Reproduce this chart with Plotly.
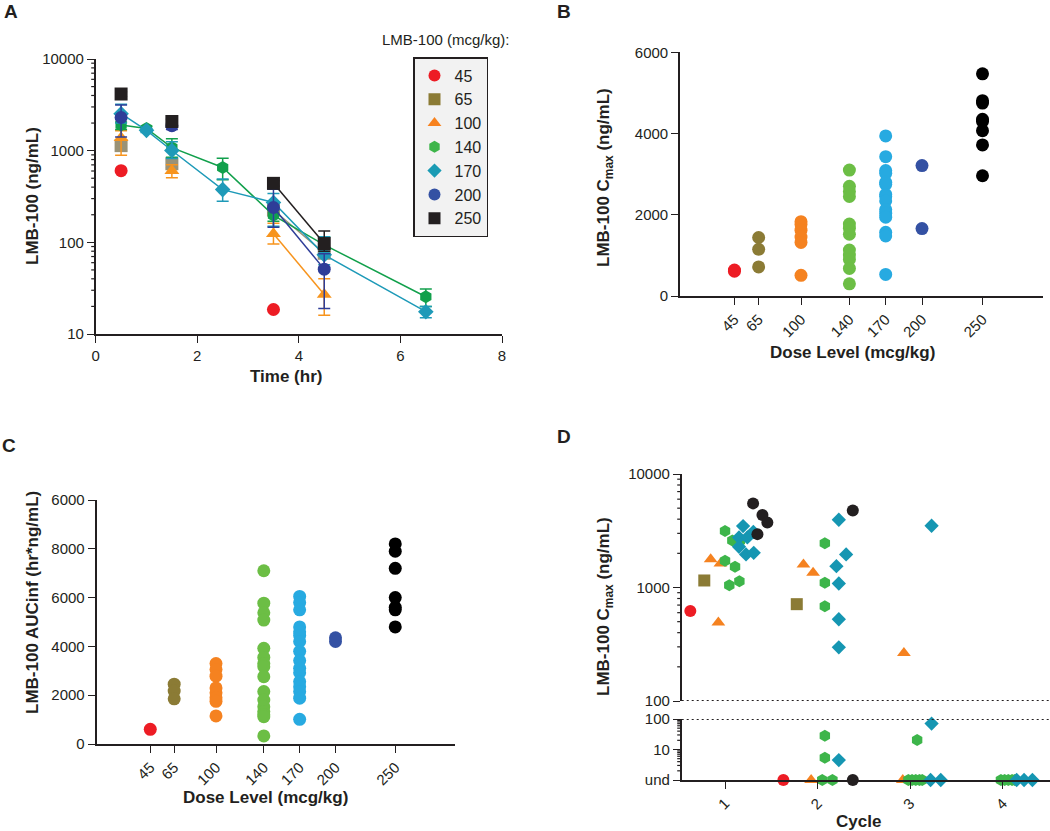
import plotly.graph_objects as go

# ---------------- DATA ----------------
doses = [45, 65, 100, 140, 170, 200, 250]
dose_labels = ["45", "65", "100", "140", "170", "200", "250"]

# Panel A: mean concentration (ng/mL) vs time (hr); error bounds (upper/lower values)
a_t = {
    45: [0.5, 3.5],
    65: [0.5, 1.5, 3.5, 4.5],
    100: [0.5, 1.5, 3.5, 4.5],
    140: [0.5, 1.0, 1.5, 2.5, 3.5, 4.5, 6.5],
    170: [0.5, 1.0, 1.5, 2.5, 3.5, 4.5, 6.5],
    200: [0.5, 1.5, 3.5, 4.5],
    250: [0.5, 1.5, 3.5, 4.5],
}
a_mean = {
    45: [605, 18.5],
    65: [1135, 720, 225, 76],
    100: [1380, 605, 124, 27],
    140: [1900, 1750, 1080, 655, 197, 94, 25.5],
    170: [2530, 1665, 1005, 376, 272, 73, 17.5],
    200: [2300, 1870, 240, 51],
    250: [4150, 2080, 440, 97],
}
a_hi = {
    45: [None, None],
    65: [1300, 800, 260, 85],
    100: [1650, 700, 161, 40],
    140: [2050, 1850, 1350, 825, 230, 115, 31],
    170: [3200, 1750, 1250, 490, 340, 115, 20],
    200: [3150, 2000, 380, 75],
    250: [4400, 2200, 470, 133],
}
a_lo = {
    45: [None, None],
    65: [1000, 650, 195, 68],
    100: [890, 507, 96, 16],
    140: [1700, 1650, 850, 483, 170, 75, 20],
    170: [2000, 1580, 820, 280, 150, 57, 15],
    200: [1410, 1700, 146, 19],
    250: [3900, 1950, 410, 80],
}
# which segments of each series are joined by a line
a_line_from = {45: None, 65: 3.5, 100: 3.5, 140: 0.5, 170: 0.5, 200: 3.5, 250: 3.5}

# Panel B: Cmax (ng/mL) per patient by dose level
b_vals = {
    45: [610, 640],
    65: [1440, 1150, 715],
    100: [1830, 1760, 1620, 1450, 1320, 510],
    140: [3100, 2700, 2570, 2450, 1770, 1670, 1520, 1130, 1010, 900, 680, 300],
    170: [3940, 3430, 3090, 3020, 2800, 2750, 2500, 2450, 2340, 2130, 2040, 1940, 1570, 1480, 530],
    200: [3210, 1660],
    250: [5470, 4810, 4750, 4350, 4300, 4070, 3720, 2960],
}

# Panel C: AUCinf (hr*ng/mL) per patient by dose level
c_vals = {
    45: [600],
    65: [2450, 2170, 1850],
    100: [3300, 3050, 2780, 2300, 2100, 1900, 1750, 1150],
    140: [7100, 5770, 5380, 5080, 3920, 3550, 3300, 3170, 2760, 2150, 1800, 1530, 1330, 1200, 1120, 330],
    170: [6050, 5800, 5500, 4800, 4600, 4450, 4200, 3800, 3420, 3100, 2920, 2560, 2350, 2150, 1880, 1010],
    200: [4350, 4200],
    250: [8200, 7900, 7200, 6000, 5600, 5500, 4800],
}
c_tickvals = [0, 2000, 4000, 6000, 8000, 10000]
c_ticktext = ["0", "2000", "4000", "6000", "8000", "6000"]

# Panel D: Cmax by cycle (x = plotted cycle position); UND = undetectable
UND = 1.0
d_x = {
    45: [0.625, 1.63],
    65: [0.776, 1.775],
    100: [0.845, 0.95, 0.928, 1.847, 1.951, 1.93, 2.932, 2.92],
    140: [1.0, 1.079, 1.16, 1.0, 1.108, 1.046, 1.155, 2.078, 2.078, 2.078, 2.078, 2.078,
          2.05, 2.16, 3.075, 2.98, 3.02, 3.06, 3.1, 3.13, 3.98, 4.02, 4.06, 4.1, 4.13],
    170: [1.195, 1.151, 1.241, 1.151, 1.227, 1.31, 1.306, 2.229, 2.308, 2.203, 2.229, 2.229,
          2.229, 2.229, 3.231, 3.231, 3.22, 3.33, 4.15, 4.23, 4.32],
    250: [1.303, 1.404, 1.457, 1.35, 2.38, 2.38],
}
d_y = {
    45: [622, UND],
    65: [1153, 713],
    100: [1778, 1629, 491, 1596, 1346, UND, 265, UND],
    140: [3142, 2600, 2565, 1718, 1520, 1047, 1137, 2460, 1099, 684, 28.3, 5.4,
          UND, UND, 20.5, UND, UND, UND, UND, UND, UND, UND, UND, UND, UND],
    170: [3475, 2762, 2762, 2282, 1955, 2019, 3097, 3953, 1955, 1542, 1084, 525,
          297, 4.5, 3499, 70.7, UND, UND, UND, UND, UND],
    250: [5510, 4345, 3745, 2953, 4779, UND],
}

# ---------------- STYLE ----------------
FONT = "Liberation Sans, Arial, sans-serif"
INK = "#231F20"
sym_a = {45: "circle", 65: "square", 100: "triangle-up", 140: "hexagon", 170: "diamond",
         200: "circle", 250: "square"}
col_a = {45: "#ED1C24", 65: "#9A9276", 100: "#F7941D", 140: "#12A04C", 170: "#1E9AB8",
         200: "#2E3D98", 250: "#231F20"}
col_leg = {45: "#ED1C24", 65: "#8B7B35", 100: "#F7821E", 140: "#3DB54A", 170: "#1A9BB4",
           200: "#3451A3", 250: "#231F20"}
col_bc = {45: "#ED1C24", 65: "#8B7B35", 100: "#F58220", 140: "#6CBE45", 170: "#27AAE1",
          200: "#3451A3", 250: "#000000"}
col_d = {45: "#ED1C24", 65: "#8B7B35", 100: "#F58220", 140: "#3DB54A", 170: "#1596B2",
         250: "#231F20"}
sym_d = {45: "circle", 65: "square", 100: "triangle-up", 140: "hexagon", 170: "diamond",
         250: "circle"}
size_sym = {"circle": 12, "square": 12, "triangle-up": 12, "hexagon": 12, "diamond": 11}

W, H = 1050, 831

# axis placement (pixels)
A_X0, A_X1, A_Y0, A_Y1 = 95.7, 502, 59, 334
B_X0, B_X1, B_Y0, B_Y1 = 680, 1043, 52.3, 296
C_X0, C_X1, C_Y0, C_Y1 = 96.5, 455, 500, 744
D_X0, D_X1 = 681.7, 1050
D_UP_Y0, D_UP_Y1 = 474, 701
D_LO_Y0, D_LO_Y1 = 719, 780


def px_x(v):
    return v / W


def px_y(v):
    return 1 - v / H


fig = go.Figure()

# ---------- Panel A ----------
for d in doses:
    t = a_t[d]
    m = a_mean[d]
    up = [(h - mm) if h is not None else None for h, mm in zip(a_hi[d], m)]
    dn = [(mm - l) if l is not None else None for l, mm in zip(a_lo[d], m)]
    start = a_line_from[d]
    if start is not None:
        lt = [tt for tt in t if tt >= start]
        lm = [mm for tt, mm in zip(t, m) if tt >= start]
        fig.add_trace(go.Scatter(x=lt, y=lm, mode="lines", xaxis="x", yaxis="y",
                                 line=dict(color=col_a[d], width=1.5), showlegend=False,
                                 hoverinfo="skip"))
    fig.add_trace(go.Scatter(
        x=t, y=m, mode="markers", xaxis="x", yaxis="y", showlegend=False,
        marker=dict(symbol=sym_a[d], size=size_sym[sym_a[d]] + 1, color=col_a[d]),
        error_y=dict(type="data", symmetric=False, array=up, arrayminus=dn,
                     color=col_a[d], thickness=1.5, width=6),
        cliponaxis=False))
    # legend-only entry
    fig.add_trace(go.Scatter(
        x=[None], y=[None], mode="markers", xaxis="x", yaxis="y", name=str(d),
        marker=dict(symbol=sym_a[d], size=size_sym[sym_a[d]], color=col_leg[d]), showlegend=True))

# ---------- Panels B and C ----------
for d in doses:
    fig.add_trace(go.Scatter(x=[d] * len(b_vals[d]), y=b_vals[d], mode="markers",
                             xaxis="x2", yaxis="y2", showlegend=False, cliponaxis=False,
                             marker=dict(symbol="circle", size=13, color=col_bc[d])))
    fig.add_trace(go.Scatter(x=[d] * len(c_vals[d]), y=c_vals[d], mode="markers",
                             xaxis="x3", yaxis="y3", showlegend=False, cliponaxis=False,
                             marker=dict(symbol="circle", size=13, color=col_bc[d])))

# ---------- Panel D ----------
for d in [45, 65, 100, 140, 170, 250]:
    xs, ys = d_x[d], d_y[d]
    ux = [x for x, y in zip(xs, ys) if y >= 100]
    uy = [y for y in ys if y >= 100]
    lx = [x for x, y in zip(xs, ys) if y < 100]
    ly = [y for y in ys if y < 100]
    mk = dict(symbol=sym_d[d], size=size_sym[sym_d[d]], color=col_d[d])
    if ux:
        fig.add_trace(go.Scatter(x=ux, y=uy, mode="markers", xaxis="x4", yaxis="y4",
                                 showlegend=False, cliponaxis=False, marker=mk))
    if lx:
        fig.add_trace(go.Scatter(x=lx, y=ly, mode="markers", xaxis="x4", yaxis="y5",
                                 showlegend=False, cliponaxis=False, marker=mk))

# ---------------- AXES ----------------
tickfont = dict(family=FONT, size=15, color=INK)
axis_common = dict(showgrid=False, zeroline=False, showline=True, linecolor=INK, linewidth=1.6,
                   ticks="outside", tickcolor=INK, tickwidth=1.4, ticklen=7, tickfont=tickfont,
                   automargin=False)

fig.update_layout(
    xaxis=dict(axis_common, domain=[px_x(A_X0), px_x(A_X1)], range=[0, 8], anchor="y",
               tickvals=[0, 2, 4, 6, 8]),
    yaxis=dict(axis_common, domain=[px_y(A_Y1), px_y(A_Y0)], type="log", range=[1, 4], anchor="x",
               tickvals=[10, 100, 1000, 10000], ticktext=["10", "100", "1000", "10000"]),
    xaxis2=dict(axis_common, domain=[px_x(B_X0), px_x(B_X1)], range=[0, 300], anchor="y2",
                tickvals=doses, ticktext=dose_labels, tickangle=-45),
    yaxis2=dict(axis_common, domain=[px_y(B_Y1), px_y(B_Y0)], range=[0, 6000], anchor="x2",
                tickvals=[0, 2000, 4000, 6000]),
    xaxis3=dict(axis_common, domain=[px_x(C_X0), px_x(C_X1)], range=[0, 300], anchor="y3",
                tickvals=doses, ticktext=dose_labels, tickangle=-45),
    yaxis3=dict(axis_common, domain=[px_y(C_Y1), px_y(C_Y0)], range=[0, 10000], anchor="x3",
                tickvals=c_tickvals, ticktext=c_ticktext),
    xaxis4=dict(axis_common, domain=[px_x(D_X0), 1.0], range=[0.532, 4.51], anchor="y5",
                tickvals=[1, 2, 3, 4], tickangle=-45),
    yaxis4=dict(axis_common, domain=[px_y(D_UP_Y1), px_y(D_UP_Y0)], type="log", range=[2, 4],
                anchor="x4", tickvals=[100, 1000, 10000], ticktext=["100", "1000", "10000"]),
    yaxis5=dict(axis_common, domain=[px_y(D_LO_Y1), px_y(D_LO_Y0)], type="log", range=[0, 2],
                anchor="x4", tickvals=[1, 10, 100], ticktext=["und", "10", "100"]),
)

# minor log ticks drawn as short marks on the y axis lines
def minor_ticks(yref, x_axis_px, decades):
    for k in decades:
        for v in range(2, 10):
            fig.add_shape(type="line", xref="paper", yref=yref,
                          x0=px_x(x_axis_px - 4.5), x1=px_x(x_axis_px), y0=v * 10 ** k, y1=v * 10 ** k,
                          line=dict(color=INK, width=1.2), layer="above")


minor_ticks("y", A_X0, [1, 2, 3])
minor_ticks("y4", D_X0, [2, 3])
minor_ticks("y5", D_X0, [0, 1])

# dotted break lines in D
for yref in ["y4", "y5"]:
    fig.add_shape(type="line", xref="paper", yref=yref, x0=px_x(D_X0), x1=1.0, y0=100, y1=100,
                  line=dict(color=INK, width=2, dash="2px,3px"))

# ---------------- TEXT ----------------
def ann(text, x, y, size=16, bold=True, angle=0, xanchor="center", yanchor="middle"):
    fig.add_annotation(text=("<b>%s</b>" % text) if bold else text, x=px_x(x), y=px_y(y),
                       xref="paper", yref="paper", showarrow=False, textangle=angle,
                       xanchor=xanchor, yanchor=yanchor,
                       font=dict(family=FONT, size=size, color=INK))

# panel letters
ann("A", 2, 12, size=19, xanchor="left")
ann("B", 555, 12, size=19, xanchor="left")
ann("C", 0, 445, size=19, xanchor="left")
ann("D", 555, 437, size=19, xanchor="left")

# axis titles
ann("Time (hr)", 286, 377, size=17)
ann("LMB-100 (ng/mL)", 32, 196, angle=-90, size=17)
ann("Dose Level (mcg/kg)", 852, 352, size=17)
ann("LMB-100 C<sub>max</sub> (ng/mL)", 605, 178, angle=-90, size=17)
ann("Dose Level (mcg/kg)", 265, 797, size=17)
ann("LMB-100 AUCinf (hr*ng/mL)", 32, 603, angle=-90, size=17)
ann("Cycle", 858, 821, size=17)
ann("LMB-100 C<sub>max</sub> (ng/mL)", 605, 607, angle=-90, size=17)

# legend title
ann("LMB-100 (mcg/kg):", 512, 40, size=15, bold=False, xanchor="right")

fig.update_layout(
    width=W, height=H, margin=dict(l=0, r=0, t=0, b=0, autoexpand=False),
    paper_bgcolor="white", plot_bgcolor="white",
    font=dict(family=FONT, color=INK),
    showlegend=True,
    legend=dict(x=px_x(413), y=px_y(57), xanchor="left", yanchor="top",
                bgcolor="#F2F2F2", bordercolor=INK, borderwidth=1.5,
                font=dict(family=FONT, size=16, color=INK),
                itemwidth=30, tracegroupgap=0),
)

fig.write_html("out.html", config={"displayModeBar": False},
               post_script="document.body.style.margin='0';document.body.style.padding='0';"
                           "document.body.style.overflow='hidden';")
